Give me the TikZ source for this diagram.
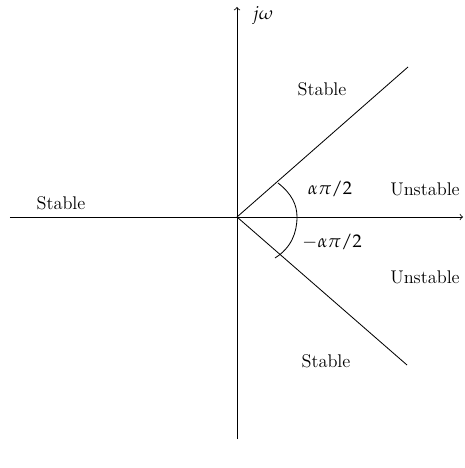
\documentclass[tikz,border=0pt]{standalone}
\usepackage{amsmath}
\usepackage{mathpazo}
\usepackage{tikz}
\usetikzlibrary{calc}

\begin{document}
\begin{tikzpicture}[x=0.6pt, y=0.6pt, line width=0.5pt,
    every node/.style={font=\fontsize{11}{13}\selectfont}]
    \useasboundingbox (-237,-251) rectangle (227,217);

    \coordinate (O) at (0,0);
    \coordinate (xl) at (-227,0);
    \coordinate (xr) at (226,0);
    \coordinate (yb) at (0,-222);
    \coordinate (yt) at (0,210);

    \draw[->] (xl) -- (xr);
    \draw[->] (yb) -- (yt);
    \node (jw) at (26,201) {\(j\omega\)};

    \coordinate (up) at (171,150);
    \coordinate (dn) at (170,-148);
    \draw (O) -- (up);
    \draw (O) -- (dn);

    % angle mark
    \draw (41,34) .. controls (55,23) and (60,12) .. (60,0)
        .. controls (60,-16) and (54,-31) .. (38,-41);
    \node (ap) at (93,28) {\(\alpha\pi/2\)};
    \node (am) at (95,-25) {\(-\alpha\pi/2\)};

    \node (st1) at (85,128) {Stable};
    \node (st2) at (-176,14) {Stable};
    \node (st3) at (89,-144) {Stable};
    \node (un1) at (188,28) {Unstable};
    \node (un2) at (188,-60) {Unstable};
\end{tikzpicture}
\end{document}
